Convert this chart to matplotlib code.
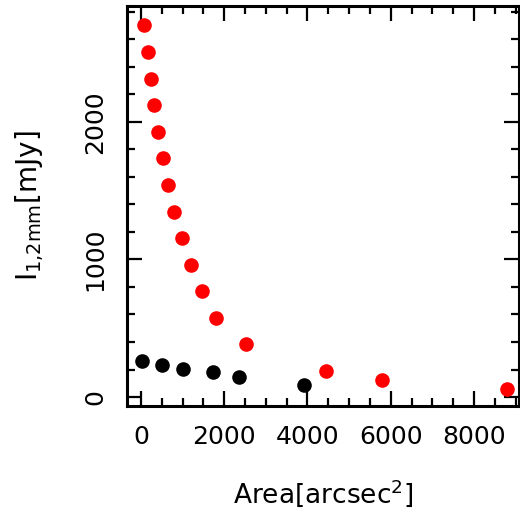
import matplotlib
matplotlib.use("Agg")
import matplotlib.pyplot as plt
from matplotlib.ticker import MultipleLocator

# red series (large decreasing set)
red_area = [79, 161, 240, 320, 416, 528, 640, 800, 977, 1194, 1459, 1802, 2515, 4444, 5798, 8800]
red_flux = [2700, 2507, 2313, 2119, 1925, 1736, 1542, 1348, 1154, 962, 771, 577, 383, 191, 126, 58]

# black series
black_area = [31, 512, 1016, 1722, 2354, 3916]
black_flux = [264, 235, 206, 180, 148, 89]

x_ticks = [0, 2000, 4000, 6000, 8000]
y_ticks = [0, 1000, 2000]

plt.rcParams['font.family'] = ['DejaVu Sans']
plt.rcParams['mathtext.default'] = 'regular'

fig = plt.figure(figsize=(5.2, 5.23), dpi=100)
ax = fig.add_axes([0.2442, 0.2237, 0.7538, 0.7648])

ax.plot(red_area, red_flux, 'o', color='#ff0000', ms=10.5, mec='none')
ax.plot(black_area, black_flux, 'o', color='black', ms=10.5, mec='none')

ax.set_xlim(-336, 9080)
ax.set_ylim(-65, 2841)
ax.set_xticks(x_ticks)
ax.set_yticks(y_ticks)
ax.xaxis.set_minor_locator(MultipleLocator(500))
ax.yaxis.set_minor_locator(MultipleLocator(200))

for s in ax.spines.values():
    s.set_linewidth(2.2)
ax.tick_params(which='both', direction='in', top=True, right=True, width=1.6)
ax.tick_params(which='major', length=11, labelsize=18, pad=14)
ax.tick_params(which='minor', length=6)
for lab in ax.get_yticklabels():
    lab.set_rotation(90)
    lab.set_va('center')

ax.set_xlabel(r'Area[arcsec$^2$]', fontsize=19, labelpad=20)
ax.set_ylabel(r'I$_{1{,}2mm}$[mJy]', fontsize=20, labelpad=27)

fig.savefig('out.png', dpi=100)
